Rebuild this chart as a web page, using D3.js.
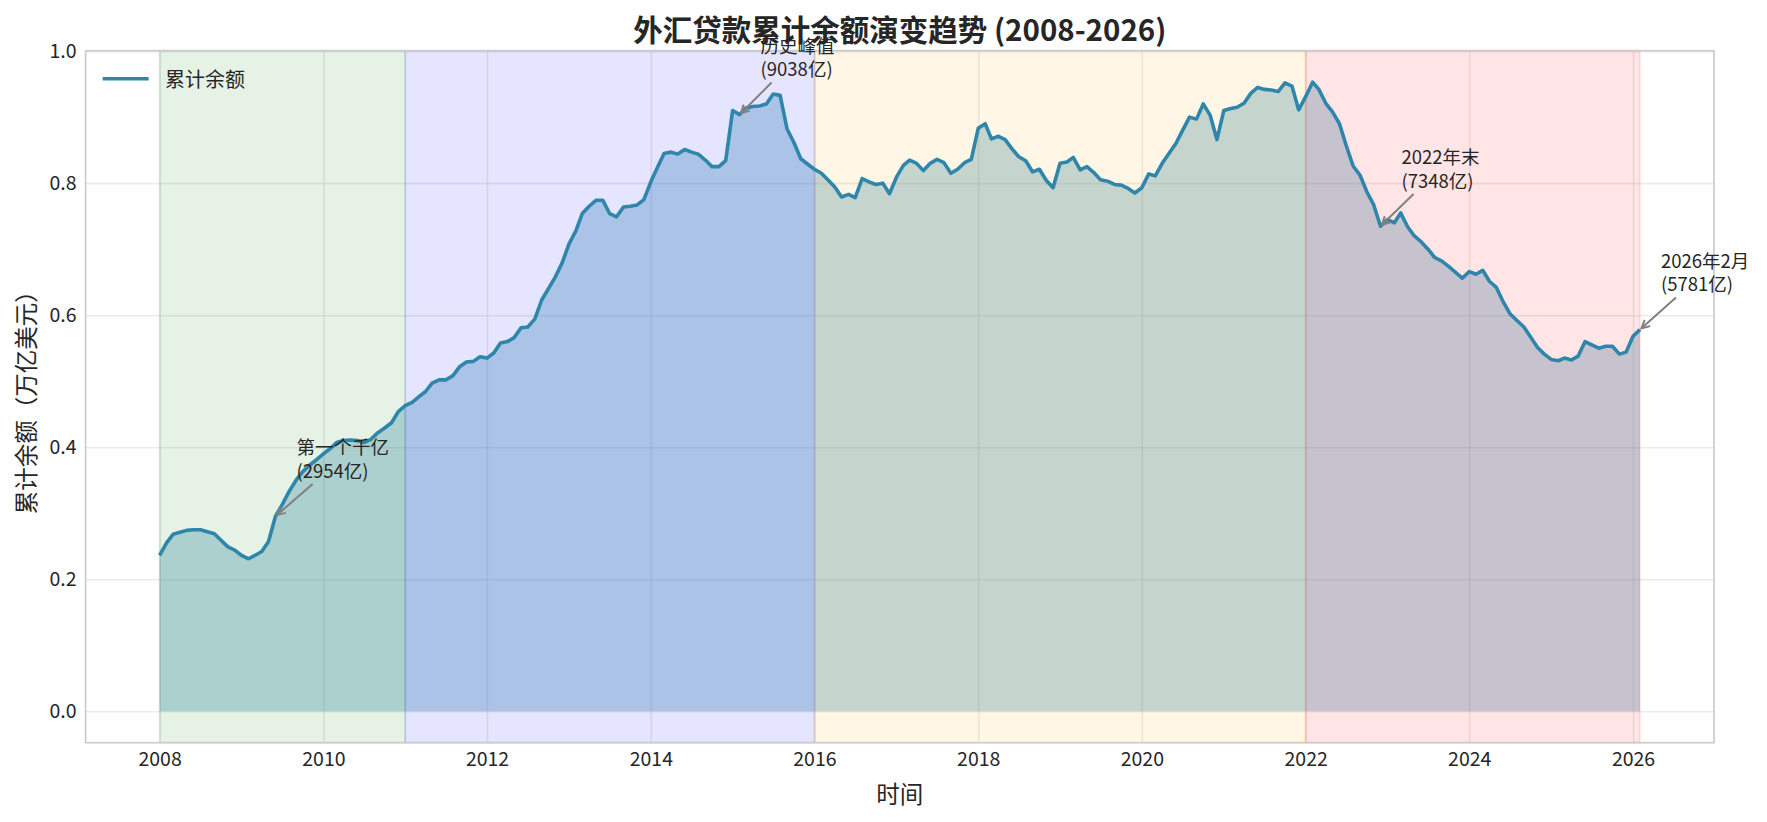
<!DOCTYPE html>
<html>
<head>
<meta charset="utf-8">
<script src="https://cdn.jsdelivr.net/npm/d3@7"></script>
<style>
  html, body { margin: 0; padding: 0; background: #ffffff; }
  svg { display: block; font-family: "Noto Sans CJK SC", "Noto Sans", sans-serif; }
</style>
</head>
<body>
<svg id="chart" width="1767" height="822"></svg>
<script>
// ---------------- DATA ----------------
const startYear = 2008;           // first month: 2008-01
const seriesName = "累计余额";
// monthly cumulative balance, trillion USD (2008-01 ... 2026-02)
const balance = [
  0.236, 0.255, 0.268, 0.271, 0.274, 0.275, 0.275, 0.272, 0.269, 0.259, 0.249, 0.244,
  0.236, 0.231, 0.236, 0.242, 0.257, 0.2954, 0.313, 0.333, 0.350, 0.363, 0.373, 0.381,
  0.390, 0.398, 0.407, 0.410, 0.411, 0.410, 0.407, 0.412, 0.422, 0.429, 0.437, 0.454,
  0.463, 0.468, 0.476, 0.484, 0.497, 0.502, 0.502, 0.508, 0.522, 0.529, 0.530, 0.537,
  0.535, 0.543, 0.558, 0.560, 0.566, 0.581, 0.582, 0.594, 0.623, 0.640, 0.658, 0.679,
  0.708, 0.728, 0.754, 0.765, 0.774, 0.774, 0.754, 0.749, 0.764, 0.765, 0.767, 0.775,
  0.802, 0.825, 0.845, 0.847, 0.844, 0.851, 0.847, 0.844, 0.835, 0.825, 0.825, 0.834,
  0.910, 0.9038, 0.914, 0.916, 0.917, 0.920, 0.935, 0.933, 0.882, 0.862, 0.837, 0.829,
  0.821, 0.815, 0.805, 0.794, 0.779, 0.783, 0.778, 0.807, 0.802, 0.798, 0.800, 0.784,
  0.809, 0.827, 0.835, 0.830, 0.819, 0.830, 0.836, 0.831, 0.815, 0.821, 0.831, 0.836,
  0.883, 0.890, 0.867, 0.871, 0.866, 0.852, 0.840, 0.834, 0.817, 0.821, 0.804, 0.793,
  0.830, 0.832, 0.839, 0.820, 0.825, 0.816, 0.805, 0.803, 0.798, 0.797, 0.792, 0.785,
  0.793, 0.814, 0.811, 0.830, 0.845, 0.860, 0.880, 0.900, 0.897, 0.920, 0.903, 0.866,
  0.910, 0.913, 0.915, 0.921, 0.936, 0.945, 0.942, 0.941, 0.939, 0.952, 0.947, 0.911,
  0.931, 0.953, 0.942, 0.921, 0.908, 0.890, 0.857, 0.826, 0.812, 0.787, 0.767, 0.7348,
  0.745, 0.740, 0.755, 0.734, 0.720, 0.711, 0.700, 0.687, 0.682, 0.674, 0.665, 0.656,
  0.666, 0.662, 0.668, 0.651, 0.642, 0.620, 0.602, 0.592, 0.582, 0.567, 0.551, 0.541,
  0.533, 0.531, 0.535, 0.532, 0.538, 0.560, 0.555, 0.550, 0.553, 0.553, 0.541, 0.544,
  0.568, 0.5781
];
// shaded periods (year boundaries; last ends at 2026-02)
const periodStarts = ["2008-01", "2011-01", "2016-01", "2022-01"];
const periodEnds   = ["2011-01", "2016-01", "2022-01", "2026-02"];
// annotations
const annotMonths = ["2009-06", "2015-02", "2022-12", "2026-02"];
const annotLabels = [["第一个千亿", "(2954亿)"], ["历史峰值", "(9038亿)"], ["2022年末", "(7348亿)"], ["2026年2月", "(5781亿)"]];
const xTickYears = [2008, 2010, 2012, 2014, 2016, 2018, 2020, 2022, 2024, 2026];
const yTickValues = [0.0, 0.2, 0.4, 0.6, 0.8, 1.0];
const titleText = "外汇贷款累计余额演变趋势 (2008-2026)";
const xLabelText = "时间";
const yLabelText = "累计余额（万亿美元）";

// ---------------- STYLE ----------------
const periodColors = ["#008000", "#0000ff", "#ffa500", "#ff0000"];
const lineColor = "#2E86AB";
const textColor = "#262626";
const FONT = '"Noto Sans CJK SC", "Noto Sans", sans-serif';

// ---------------- LAYOUT ----------------
const svg = d3.select("#chart");
const W = 1767, H = 822;
const plot = { left: 85.6, right: 1714, top: 50.7, bottom: 742.7 };

svg.append("rect").attr("width", W).attr("height", H).attr("fill", "#ffffff");

const parseMonth = d3.timeParse("%Y-%m");
const data = balance.map((v, i) => ({ date: new Date(startYear, i, 1), value: v }));

const t0 = data[0].date.getTime(), t1 = data[data.length - 1].date.getTime();
const tPad = 0.05 * (t1 - t0);
const x = d3.scaleTime()
  .domain([new Date(t0 - tPad), new Date(t1 + tPad)])
  .range([plot.left, plot.right]);

const vMax = d3.max(balance);
const y = d3.scaleLinear()
  .domain([0 - 0.05 * vMax, vMax * 1.05])
  .range([plot.bottom, plot.top]);

// ---------------- GRID ----------------
const gGrid = svg.append("g");
const xTickDates = xTickYears.map(yr => new Date(yr, 0, 1));
const xAxisGrid = d3.axisBottom(x).tickValues(xTickDates).tickSize(-(plot.bottom - plot.top)).tickFormat("");
const yAxisGrid = d3.axisLeft(y).tickValues(yTickValues).tickSize(-(plot.right - plot.left)).tickFormat("");
gGrid.append("g").attr("transform", `translate(0,${plot.bottom})`).call(xAxisGrid)
  .call(g => g.select(".domain").remove())
  .selectAll("line").attr("stroke", "#cccccc").attr("stroke-opacity", 0.4).attr("stroke-width", 1.6);
gGrid.append("g").attr("transform", `translate(${plot.left},0)`).call(yAxisGrid)
  .call(g => g.select(".domain").remove())
  .selectAll("line").attr("stroke", "#cccccc").attr("stroke-opacity", 0.4).attr("stroke-width", 1.6);

// ---------------- FILL AREA ----------------
const area = d3.area().x(d => x(d.date)).y0(y(0)).y1(d => y(d.value));
svg.append("path").datum(data).attr("d", area)
  .attr("fill", lineColor).attr("fill-opacity", 0.3);

// ---------------- PERIOD SPANS ----------------
const gSpans = svg.append("g");
periodStarts.forEach((s, k) => {
  const xa = x(parseMonth(s)), xb = x(parseMonth(periodEnds[k]));
  gSpans.append("rect")
    .attr("x", xa).attr("y", plot.top)
    .attr("width", xb - xa).attr("height", plot.bottom - plot.top)
    .attr("fill", periodColors[k]).attr("fill-opacity", 0.1)
    .attr("stroke", periodColors[k]).attr("stroke-opacity", 0.1).attr("stroke-width", 1.8);
});

// ---------------- LINE ----------------
const line = d3.line().x(d => x(d.date)).y(d => y(d.value));
svg.append("path").datum(data).attr("d", line)
  .attr("fill", "none").attr("stroke", lineColor).attr("stroke-width", 3.6)
  .attr("stroke-linejoin", "round").attr("stroke-linecap", "butt");

// ---------------- SPINES ----------------
svg.append("rect")
  .attr("x", plot.left).attr("y", plot.top)
  .attr("width", plot.right - plot.left).attr("height", plot.bottom - plot.top)
  .attr("fill", "none").attr("stroke", "#cccccc").attr("stroke-width", 1.7);

// ---------------- TICK LABELS ----------------
const xAxis = d3.axisBottom(x).tickValues(xTickDates).tickFormat(d3.timeFormat("%Y")).tickSize(0).tickPadding(9);
svg.append("g").attr("transform", `translate(0,${plot.bottom})`).call(xAxis)
  .call(g => g.select(".domain").remove())
  .selectAll("text").attr("font-family", FONT).attr("font-size", 19.5).attr("fill", textColor);

const yAxis = d3.axisLeft(y).tickValues(yTickValues).tickFormat(d3.format(".1f")).tickSize(0).tickPadding(9);
svg.append("g").attr("transform", `translate(${plot.left},0)`).call(yAxis)
  .call(g => g.select(".domain").remove())
  .selectAll("text").attr("font-family", FONT).attr("font-size", 19.5).attr("fill", textColor);

// ---------------- ANNOTATIONS ----------------
const gAnn = svg.append("g");
annotMonths.forEach((m, k) => {
  const dt = parseMonth(m);
  const idx = (dt.getFullYear() - startYear) * 12 + dt.getMonth();
  const px = x(dt), py = y(balance[idx]);
  const txt = gAnn.append("text")
    .attr("font-family", FONT).attr("font-size", 18.5).attr("fill", textColor);
  annotLabels[k].forEach((ln, j) => {
    txt.append("tspan").attr("x", px + 21).attr("y", py - 70 + j * 23.5)
      .attr("dominant-baseline", "central").text(ln);
  });
  const bb = txt.node().getBBox();
  const cx = bb.x + bb.width / 2, cy = bb.y + bb.height / 2;
  // clip segment center->point at bbox edge
  const dx = px - cx, dy = py - cy;
  let tEdge = 1;
  if (dx !== 0) tEdge = Math.min(tEdge, Math.abs((bb.width / 2) / dx));
  if (dy !== 0) tEdge = Math.min(tEdge, Math.abs((bb.height / 2) / dy));
  const len = Math.hypot(dx, dy);
  const ux = dx / len, uy = dy / len;
  const sx = cx + dx * tEdge + ux * 2, sy = cy + dy * tEdge + uy * 2;
  const ex = px - ux * 2, ey = py - uy * 2;
  const col = "#808080";
  gAnn.append("line").attr("x1", sx).attr("y1", sy).attr("x2", ex).attr("y2", ey)
    .attr("stroke", col).attr("stroke-width", 2);
  const hl = 8, hw = 4.2;
  const bx = ex - ux * hl, by = ey - uy * hl;
  gAnn.append("path")
    .attr("d", `M${bx - uy * hw},${by + ux * hw} L${ex},${ey} L${bx + uy * hw},${by - ux * hw}`)
    .attr("fill", "none").attr("stroke", col).attr("stroke-width", 2).attr("stroke-linejoin", "miter");
});

// ---------------- LEGEND ----------------
const legY = 78.7;
svg.append("line").attr("x1", 102.7).attr("x2", 148.7).attr("y1", legY).attr("y2", legY)
  .attr("stroke", lineColor).attr("stroke-width", 3.6);
svg.append("text").attr("x", 165).attr("y", legY).attr("dominant-baseline", "central")
  .attr("font-family", FONT).attr("font-size", 20).attr("fill", textColor).text(seriesName);

// ---------------- TITLES ----------------
svg.append("text").attr("x", (plot.left + plot.right) / 2).attr("y", 27.5)
  .attr("text-anchor", "middle").attr("dominant-baseline", "central")
  .attr("font-family", FONT).attr("font-size", 29.5).attr("font-weight", "bold")
  .attr("fill", textColor).text(titleText);
svg.append("text").attr("x", (plot.left + plot.right) / 2).attr("y", 792.5)
  .attr("text-anchor", "middle").attr("dominant-baseline", "central")
  .attr("font-family", FONT).attr("font-size", 23.5).attr("fill", textColor).text(xLabelText);
svg.append("text")
  .attr("transform", `translate(25,${(plot.top + plot.bottom) / 2}) rotate(-90)`)
  .attr("text-anchor", "middle").attr("dominant-baseline", "central")
  .attr("font-family", FONT).attr("font-size", 23.5).attr("fill", textColor).text(yLabelText);
</script>
</body>
</html>
